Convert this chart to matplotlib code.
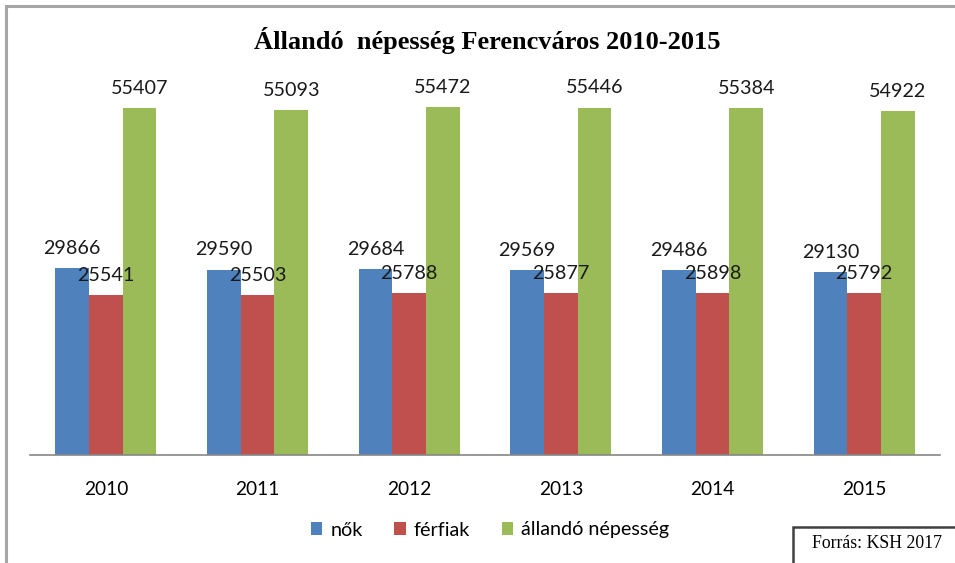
import matplotlib
matplotlib.use("Agg")
import matplotlib.pyplot as plt
from matplotlib.patches import Rectangle
import numpy as np

years = ["2010", "2011", "2012", "2013", "2014", "2015"]
nok = [29866, 29590, 29684, 29569, 29486, 29130]
ferfiak = [25541, 25503, 25788, 25877, 25898, 25792]
allando = [55407, 55093, 55472, 55446, 55384, 54922]
series_names = ["nők", "férfiak", "állandó népesség"]
colors = ["#4F81BD", "#C0504D", "#9BBB59"]
title = "Állandó  népesség Ferencváros 2010-2015"
source = "Forrás: KSH 2017"

W, H = 955, 563
fig = plt.figure(figsize=(W / 100, H / 100), dpi=100)
fig.patch.set_facecolor("white")

# outer frame
fig.add_artist(Rectangle((6 / W, -0.1), 1.2, 1 - 6 / H + 0.1, transform=fig.transFigure,
                         fill=False, edgecolor="#A6A6A6", linewidth=2.2))

ax = fig.add_axes([30 / W, (H - 455) / H, 910 / W, 376 / H])
ax.set_facecolor("none")
x = np.arange(len(years))
bw = 0.222
for i, (vals, c) in enumerate(zip([nok, ferfiak, allando], colors)):
    pos = x + (i - 1) * bw
    ax.bar(pos, vals, width=bw, color=c, label=series_names[i], zorder=2)
    for p, v in zip(pos, vals):
        ax.annotate(str(v), (p, v), xytext=(0, 8), textcoords="offset points",
                    ha="center", va="bottom", fontsize=14.2, family="Lato", color="#1a1a1a",
                    zorder=3)

ax.set_xlim(-0.5, len(years) - 0.5)
ax.set_ylim(0, 60000)
ax.set_xticks(x)
ax.set_xticklabels(years, family="Lato", fontsize=13.8)
ax.tick_params(axis="x", length=0, pad=19)
ax.set_yticks([])
for s in ["top", "right", "left"]:
    ax.spines[s].set_visible(False)
ax.spines["bottom"].set_color("#868686")
ax.spines["bottom"].set_linewidth(1.2)

fig.text(487 / W, 1 - 40 / H, title, ha="center", va="center", family="Liberation Serif",
         fontweight="bold", fontsize=19)

leg = fig.legend(loc="center", bbox_to_anchor=(490 / W, 1 - 530 / H), ncol=3, frameon=False,
                 prop={"family": "Lato", "size": 14.2}, handlelength=0.6, handleheight=0.6,
                 columnspacing=1.6, handletextpad=0.4)

fig.add_artist(Rectangle((793 / W, -0.1), 0.3, 0.1 + (H - 527) / H, transform=fig.transFigure,
                         fill=False, edgecolor="#404040", linewidth=1.8))
fig.text(877 / W, 1 - 543 / H, source, ha="center", va="center", family="Liberation Serif",
         fontsize=12.8)

fig.savefig("out.png", dpi=100)
